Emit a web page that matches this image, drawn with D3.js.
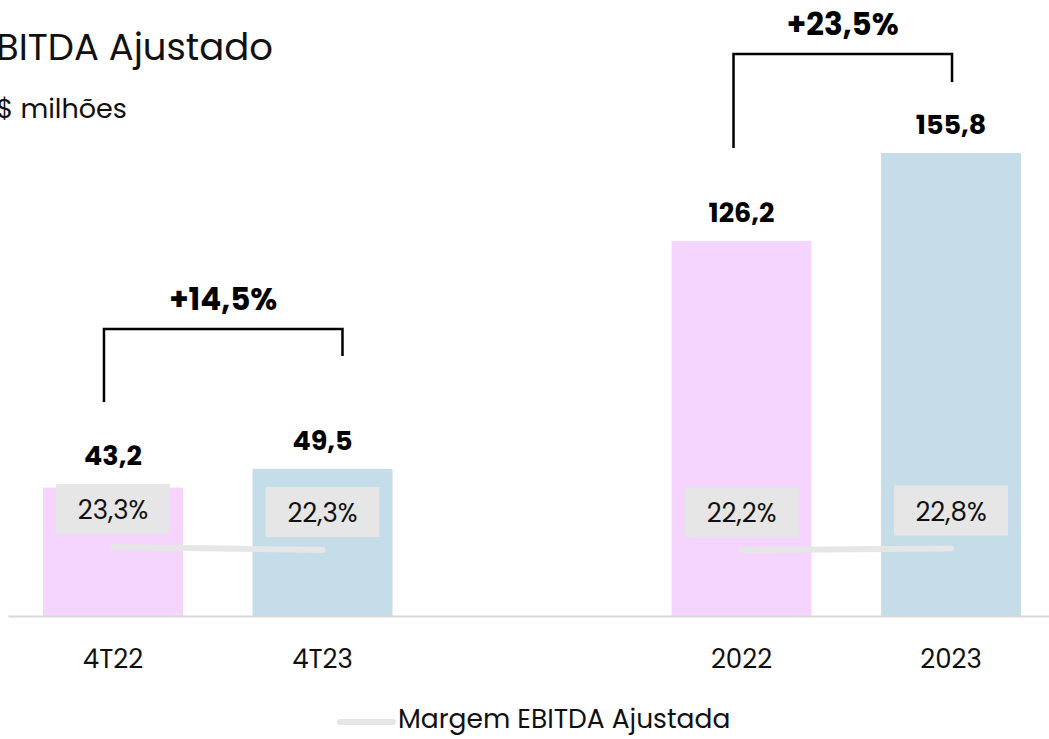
<!DOCTYPE html>
<html><head><meta charset="utf-8">
<script src="https://cdn.jsdelivr.net/npm/d3@7"></script>
<style>
body{margin:0;background:#fff;}
svg{display:block;font-family:Poppins,Inter,"Noto Sans",sans-serif;}
</style></head>
<body>
<svg id="chart" width="1049" height="739"></svg>
<script>
const categories = ["4T22","4T23","","2022","2023"];
const ebitda = [43.2, 49.5, null, 126.2, 155.8];
const margins = [23.3, 22.3, null, 22.2, 22.8];
const valueLabels = ["43,2","49,5","","126,2","155,8"];
const marginLabels = ["23,3%","22,3%","","22,2%","22,8%"];
const growthLabels = ["+14,5%","+23,5%"];
const barColors = ["#f5d4fd","#c5dce9","#fff","#f5d4fd","#c5dce9"];

const svg = d3.select("#chart");
const baseY = 616;
const x = d3.scaleBand().domain(d3.range(categories.length))
  .range([8, 1056]).paddingInner(0.332).paddingOuter(0.167);
const y = d3.scaleLinear().domain([0, 155.8]).range([baseY, 153]);
const ym = d3.scaleLinear().domain([22, 24]).range([550.9, 544.9]);
const cx = i => x(i) + x.bandwidth()/2;
const idx = d3.range(categories.length).filter(i => ebitda[i] != null);

// title
svg.append("text").attr("x",-23).attr("y",60).attr("font-size",37).attr("fill","#111").text("EBITDA Ajustado");
svg.append("text").attr("x",-20).attr("y",118).attr("font-size",27).attr("fill","#111").text("R$ milhões");

// bars
svg.selectAll("rect.bar").data(idx).join("rect").attr("class","bar")
  .attr("x", i => x(i)).attr("width", x.bandwidth())
  .attr("y", i => y(ebitda[i])).attr("height", i => baseY - y(ebitda[i]))
  .attr("fill", i => barColors[i]);

// axis
const axis = svg.append("g").attr("transform",`translate(0,${baseY})`)
  .call(d3.axisBottom(x).tickSize(0).tickPadding(34).tickFormat(i => categories[i]));
axis.select(".domain").attr("stroke","#d9d9d9").attr("stroke-width",2);
axis.selectAll("text").attr("font-size",26).attr("fill","#111").attr("font-family","Poppins,Inter,'Noto Sans',sans-serif");

// margin lines
const lineGen = d3.line().x(i => cx(i)).y(i => ym(margins[i]));
[[0,1],[3,4]].forEach(pair => {
  svg.append("path").attr("d", lineGen(pair)).attr("fill","none")
    .attr("stroke","#e6e6e6").attr("stroke-width",6).attr("stroke-linecap","round");
});

// margin label boxes
const boxW = 114, boxH = 50;
const boxCy = i => ym(margins[i]) - 38;
const mg = svg.selectAll("g.mlab").data(idx).join("g").attr("class","mlab");
mg.append("rect").attr("x", i => cx(i)-boxW/2).attr("y", i => boxCy(i)-boxH/2)
  .attr("width", boxW).attr("height", boxH).attr("fill","#e6e6e6");
mg.append("text").attr("x", cx).attr("y", i => boxCy(i)+10)
  .attr("text-anchor","middle").attr("font-size",26).attr("fill","#111")
  .text(i => marginLabels[i]);

// value labels
svg.selectAll("text.val").data(idx).join("text").attr("class","val")
  .attr("x", cx).attr("y", i => Math.min(y(ebitda[i]), boxCy(i)-boxH/2) - 19)
  .attr("text-anchor","middle").attr("font-size",27).attr("font-weight",700).attr("fill","#000")
  .text(i => valueLabels[i]);

// growth brackets
const brackets = [
  {a:0, b:1, top:329, la:402, lb:356, dxa:-9, dxb:20, label:growthLabels[0]},
  {a:3, b:4, top:54, la:148, lb:82, dxa:-8, dxb:1, label:growthLabels[1]}
];
brackets.forEach(br => {
  const xa = cx(br.a)+br.dxa, xb = cx(br.b)+br.dxb;
  svg.append("path").attr("d", `M${xa},${br.la}V${br.top}H${xb}V${br.lb}`)
    .attr("fill","none").attr("stroke","#000").attr("stroke-width",2.5);
  svg.append("text").attr("x",(xa+xb)/2).attr("y",br.top-19).attr("text-anchor","middle")
    .attr("font-size",31).attr("font-weight",700).attr("fill","#000").text(br.label);
});

// legend
svg.append("line").attr("x1",340).attr("x2",393).attr("y1",722).attr("y2",722)
  .attr("stroke","#e6e6e6").attr("stroke-width",6).attr("stroke-linecap","round");
svg.append("text").attr("x",398).attr("y",728).attr("font-size",26.5).attr("fill","#111").text("Margem EBITDA Ajustada");
</script>
</body></html>
